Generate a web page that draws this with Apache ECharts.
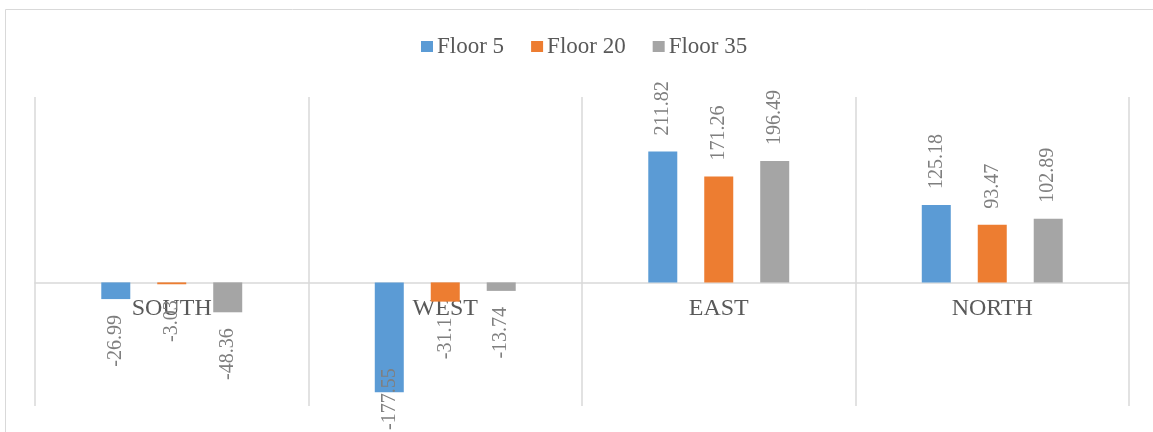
<!DOCTYPE html>
<html>
<head>
<meta charset="utf-8">
<script src="https://cdn.jsdelivr.net/npm/echarts@6/dist/echarts.min.js"></script>
<style>
html,body{margin:0;padding:0;background:#fff;}
#chart{width:1153px;height:432px;}
</style>
</head>
<body>
<div id="chart"></div>
<script>
const categories = ['SOUTH', 'WEST', 'EAST', 'NORTH'];
const seriesNames = ['Floor 5', 'Floor 20', 'Floor 35'];
const floor5 = [-26.99, -177.55, 211.82, 125.18];
const floor20 = [-3.03, -31.1, 171.26, 93.47];
const floor35 = [-48.36, -13.74, 196.49, 102.89];
const colors = ['#5B9BD5', '#ED7D31', '#A5A5A5'];
const allValues = [floor5, floor20, floor35];
const Y_MIN = -200, Y_MAX = 300;

const FONT = '"Liberation Serif", "Times New Roman", serif';
const LABEL_SIZE = 20;
const LABEL_DIST = 16;

const W = 1153, H = 432;
const GRID = {left: 35, right: 24, top: 97, bottom: 26};
const gridH = H - GRID.top - GRID.bottom;
// distance from the grid bottom up to the zero line
const zeroOffset = gridH * (0 - Y_MIN) / (Y_MAX - Y_MIN);

const chart = echarts.init(document.getElementById('chart'), null, {renderer: 'canvas'});

function makeItem(v) {
  const neg = v < 0;
  return {
    value: v,
    label: {
      position: neg ? 'bottom' : 'top',
      align: neg ? 'right' : 'left',
      verticalAlign: 'middle'
    }
  };
}

const option = {
  animation: false,
  backgroundColor: '#ffffff',
  textStyle: {fontFamily: FONT},
  graphic: [{
    type: 'rect',
    silent: true,
    shape: {x: 5.5, y: 9.5, width: 1200, height: 500},
    style: {fill: 'none', stroke: '#d9d9d9', lineWidth: 1}
  }],
  legend: {
    data: seriesNames,
    left: 416,
    top: 30,
    itemWidth: 12,
    itemHeight: 11,
    itemGap: 27,
    icon: 'rect',
    textStyle: {fontFamily: FONT, fontSize: 23, color: '#595959', padding: [0, 0, 0, -1]}
  },
  grid: Object.assign({containLabel: false, outerBoundsMode: 'none'}, GRID),
  xAxis: {
    type: 'category',
    data: categories,
    boundaryGap: true,
    position: 'bottom',
    offset: -zeroOffset,
    axisLine: {show: true, onZero: false, lineStyle: {color: '#d9d9d9', width: 1.5}},
    axisTick: {show: false},
    axisLabel: {fontFamily: FONT, fontSize: 24, color: '#595959', margin: 14},
    splitLine: {show: true, lineStyle: {color: '#d9d9d9', width: 1.5}}
  },
  yAxis: {
    type: 'value',
    min: Y_MIN,
    max: Y_MAX,
    show: false,
    splitLine: {show: false}
  },
  series: allValues.map((vals, si) => ({
    name: seriesNames[si],
    type: 'bar',
    barWidth: 29,
    barGap: '93%',
    itemStyle: {color: colors[si]},
    label: {
      show: true,
      rotate: 90,
      distance: LABEL_DIST,
      fontFamily: FONT,
      fontSize: LABEL_SIZE,
      color: '#7f7f7f'
    },
    data: vals.map(makeItem)
  }))
};

chart.setOption(option);

// Keep labels of long negative bars inside the canvas (as the original does)
(function fitLabels() {
  const ctx = document.createElement('canvas').getContext('2d');
  ctx.font = LABEL_SIZE + 'px ' + FONT;
  const series = allValues.map((vals) => ({
    data: vals.map((v, i) => {
      const item = makeItem(v);
      if (v < 0) {
        const p = chart.convertToPixel({xAxisIndex: 0, yAxisIndex: 0}, [i, v]);
        const len = ctx.measureText(String(v)).width;
        const over = p[1] + LABEL_DIST + len - (chart.getHeight() - 2);
        // offset is in the rotated label frame: +x points up on screen
        if (over > 0) item.label.offset = [over, 0];
      }
      return item;
    })
  }));
  chart.setOption({series});
})();
</script>
</body>
</html>
